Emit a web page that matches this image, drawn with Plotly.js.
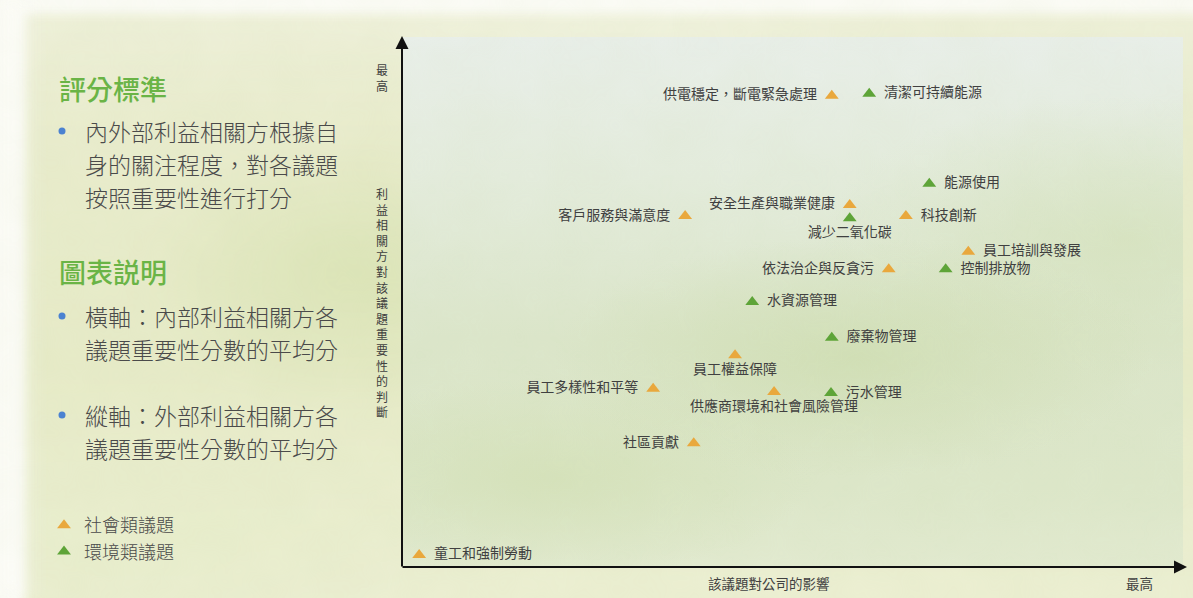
<!DOCTYPE html>
<html><head><meta charset="utf-8">
<script src="https://cdn.plot.ly/plotly-3.0.1.min.js"></script>
<style>
html,body{margin:0;padding:0;width:1193px;height:598px;overflow:hidden;background:#FCFCF7;}
#bg{position:absolute;left:0;top:0;width:1193px;height:598px;overflow:hidden;}
#wash{position:absolute;left:24px;top:14px;width:1190px;height:600px;filter:blur(5px);
 background:
  radial-gradient(ellipse 220px 140px at 330px 260px, rgba(212,224,172,0.6), rgba(212,224,172,0) 100%),
  radial-gradient(ellipse 260px 160px at 120px 520px, rgba(232,237,204,0.8), rgba(232,237,204,0) 100%),
  radial-gradient(ellipse 300px 60px at 600px 10px, rgba(240,242,222,0.9), rgba(240,242,222,0) 100%),
  linear-gradient(180deg, #EEF0D9 0px, #E9ECCD 120px, #E7EBC8 350px, #ECEFD3 600px);}
#wash2{position:absolute;left:0;top:0;width:40px;height:598px;filter:blur(8px);
 background:linear-gradient(90deg, rgba(252,252,247,0.9), rgba(252,252,247,0));}
#plotp{position:absolute;left:403px;top:37px;width:780px;height:530px;
 background:
  radial-gradient(ellipse 300px 120px at 450px 320px, rgba(206,221,176,0.75), rgba(206,221,176,0) 100%),
  radial-gradient(ellipse 260px 100px at 150px 440px, rgba(212,225,184,0.8), rgba(212,225,184,0) 100%),
  radial-gradient(ellipse 300px 140px at 720px 200px, rgba(210,224,182,0.6), rgba(210,224,182,0) 100%),
  linear-gradient(180deg, #E9EFEA 0px, #E4ECDD 140px, #DCE6CB 300px, #DDE7CA 450px, #E2EAD0 530px);}
#noise{position:absolute;left:0;top:0;width:1193px;height:598px;opacity:0.14;}
#chart{position:absolute;left:0;top:0;width:1193px;height:598px;}
</style></head>
<body>
<div id="bg"><div id="wash"></div><div id="wash2"></div><div id="plotp"></div>
<svg id="noise" width="1193" height="598"><filter id="f"><feTurbulence type="fractalNoise" baseFrequency="0.02" numOctaves="3" seed="4"/><feColorMatrix type="matrix" values="0 0 0 0 0.55  0 0 0 0 0.65  0 0 0 0 0.35  0 0 0 0.6 0"/></filter><rect x="20" y="14" width="1173" height="584" filter="url(#f)"/></svg>
</div>
<div id="chart"></div>
<script>
// ---- data ----
const socialNames = ["供電穩定，斷電緊急處理","安全生產與職業健康","科技創新","客戶服務與滿意度","員工培訓與發展","依法治企與反貪污","員工權益保障","員工多樣性和平等","供應商環境和社會風險管理","社區貢獻","童工和強制勞動"];
const socialX = [55.1, 57.4, 64.6, 36.3, 72.6, 62.4, 42.7, 32.2, 47.7, 37.4, 2.2];
const socialY = [89.4, 68.7, 66.6, 66.6, 59.8, 56.5, 40.2, 33.8, 33.2, 23.5, 2.3];
const socialLabelPos = ["middle left","middle left","middle right","middle left","middle right","middle left","bottom center","middle left","bottom center","middle left","middle right"];

const envNames = ["清潔可持續能源","能源使用","減少二氧化碳","控制排放物","水資源管理","廢棄物管理","污水管理"];
const envX = [59.9, 67.6, 57.4, 69.7, 44.9, 55.1, 55.0];
const envY = [89.8, 72.7, 66.2, 56.5, 50.3, 43.5, 33.0];
const envLabelPos = ["middle right","middle right","bottom center","middle right","middle right","middle right","middle right"];

const seriesNames = ["社會類議題","環境類議題"];
const xAxisLabel = "該議題對公司的影響";
const yAxisLabel = "利益相關方對該議題重要性的判斷";
const maxLabel = "最高";

const heading1 = "評分標準";
const bullet1 = ["內外部利益相關方根據自","身的關注程度，對各議題","按照重要性進行打分"];
const heading2 = "圖表説明";
const bullet2 = ["橫軸：內部利益相關方各","議題重要性分數的平均分"];
const bullet3 = ["縱軸：外部利益相關方各","議題重要性分數的平均分"];

// ---- layout helpers ----
const W = 1193, H = 598;
const px = x => x / W, py = y => 1 - y / H;
const FONT = '"Noto Sans CJK TC", "Noto Sans", sans-serif';
const ORANGE = '#E9A83D', GREEN = '#5EA438', TXT = '#404040';

// small gap between marker and label
const tmpl = pos => pos.map(p => p.endsWith('right') ? '  %{text}' : (p.endsWith('left') ? '%{text}  ' : '%{text}'));

const traces = [
  {type:'scatter', mode:'markers+text', name:seriesNames[0], x:socialX, y:socialY, text:socialNames,
   texttemplate:tmpl(socialLabelPos), textposition:socialLabelPos, cliponaxis:false,
   marker:{symbol:'triangle-up', size:12, color:ORANGE}, textfont:{family:FONT, size:14, color:TXT}, hoverinfo:'text'},
  {type:'scatter', mode:'markers+text', name:seriesNames[1], x:envX, y:envY, text:envNames,
   texttemplate:tmpl(envLabelPos), textposition:envLabelPos, cliponaxis:false,
   marker:{symbol:'triangle-up', size:12, color:GREEN}, textfont:{family:FONT, size:14, color:TXT}, hoverinfo:'text'}
];

const ann = [];
function txt(s, x, y, size, color, opts, weight) {
  ann.push(Object.assign({text:s, x:px(x), y:py(y), xref:'paper', yref:'paper', showarrow:false,
    xanchor:'left', yanchor:'middle', font:{family:FONT, size:size, color:color, weight:weight||'normal'}}, opts||{}));
}
const BODY = '#4a4a4a', HEAD = '#6AB446';
txt(heading1, 57, 88, 27, HEAD, {}, 500);
bullet1.forEach((s,i)=>txt(s, 83, 131+33*i, 23, BODY, {}, 300));
txt(heading2, 57, 271, 27, HEAD, {}, 500);
bullet2.forEach((s,i)=>txt(s, 83, 316+33*i, 23, BODY, {}, 300));
bullet3.forEach((s,i)=>txt(s, 83, 415+33*i, 23, BODY, {}, 300));

// axis titles
txt(xAxisLabel, 769, 583, 13.5, TXT, {xanchor:'center'});
txt(maxLabel, 1139, 583, 13.5, TXT, {xanchor:'center'});
txt(maxLabel.split('').join('<br>'), 382, 77, 12, TXT, {xanchor:'center'});
txt(yAxisLabel.split('').join('<br>'), 382, 302, 12, TXT, {xanchor:'center'});

// axis arrows
ann.push({x:px(1187), y:py(567), xref:'paper', yref:'paper', ax:-(1187-401), ay:0, axref:'pixel', ayref:'pixel',
  showarrow:true, arrowhead:2, arrowsize:1.3, arrowwidth:2, arrowcolor:'#111', text:'', standoff:0});
ann.push({x:px(402), y:py(36), xref:'paper', yref:'paper', ax:0, ay:(568-36), axref:'pixel', ayref:'pixel',
  showarrow:true, arrowhead:2, arrowsize:1.3, arrowwidth:2, arrowcolor:'#111', text:'', standoff:0});

const shapes = [131, 316, 415].map(cy => ({type:'circle', xref:'paper', yref:'paper',
  x0:px(58.5), x1:px(65.5), y0:py(cy+3.5), y1:py(cy-3.5), fillcolor:'#4B82D1', line:{width:0}}));

const layout = {
  width:W, height:H, margin:{l:0,r:0,t:0,b:0,pad:0},
  paper_bgcolor:'rgba(0,0,0,0)', plot_bgcolor:'rgba(0,0,0,0)',
  xaxis:{domain:[px(402), px(1182)], range:[0,100], showgrid:false, zeroline:false, showticklabels:false, ticks:'', showline:false, fixedrange:true},
  yaxis:{domain:[py(567), py(40)], range:[0,100], showgrid:false, zeroline:false, showticklabels:false, ticks:'', showline:false, fixedrange:true},
  showlegend:true,
  legend:{x:px(44), y:py(507), xanchor:'left', yanchor:'top', bgcolor:'rgba(0,0,0,0)', font:{family:FONT, size:18, color:BODY, weight:300}, itemwidth:30, tracegroupgap:0},
  annotations:ann, shapes:shapes
};
Plotly.newPlot('chart', traces, layout, {displayModeBar:false, staticPlot:true});
</script>
</body></html>
